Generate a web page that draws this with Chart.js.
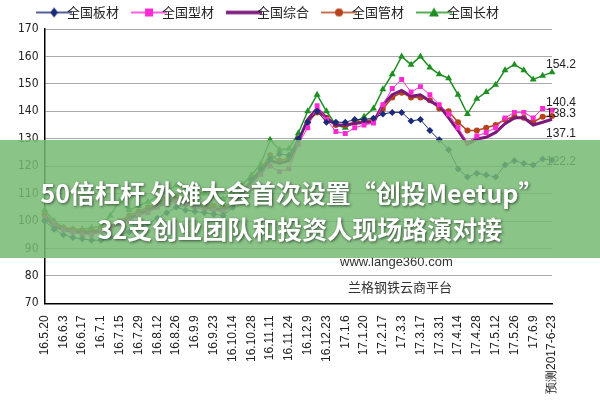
<!DOCTYPE html>
<html>
<head>
<meta charset="utf-8">
<script src="https://cdn.jsdelivr.net/npm/chart.js@4.4.0/dist/chart.umd.min.js"></script>
<style>
  body{margin:0;background:#fff;}
  #wrap{width:600px;height:400px;}
</style>
</head>
<body>
<div id="wrap"><canvas id="c"></canvas></div>
<script>
// 刻度标签（每两周一个）
const tickLabels = ['16.5.20','16.6.3','16.6.17','16.7.1','16.7.15','16.7.29','16.8.12','16.8.26','16.9.9','16.9.23',
  '16.10.14','16.10.28','16.11.11','16.11.24','16.12.9','16.12.23','17.1.6','17.1.20','17.2.17','17.3.3',
  '17.3.17','17.3.31','17.4.14','17.4.28','17.5.12','17.5.26','17.6.9','预测2017-6-23'];

const banCai   = [100,97,95,94,93.5,93,93,94,95,96,97.5,99,101,103,105,104,103.5,103,102.5,102,105,108.6,115,119,122.6,124.4,124,130,136,140,136,136,136,137,137,137.5,139,139.6,139.6,136.5,137,133,129.6,126,119,116,117.4,116.8,116,120.4,122,121,120.4,122.6,122.2];
const xingCai  = [101,99,97,96,95,95,96,97,99,100,102,103,105,106,107,106,105,104,104,103.5,105,108,112,117,120,118,119,128,134,142,137,132.6,131.9,134,135,135.7,142.4,148.3,151.6,147,149,146,142.4,139,134,128.6,131,132.3,134,137.6,139.6,139.6,137.6,141,140.4];
const zongHe   = [102,98,97,96,96,95.7,96.5,97.5,99,101,102.5,104,105.5,107,108,107,106,105,104.5,104,106,110,114,118,122,121,122,129,137,141,137.6,135,135,135.5,136,136,142.4,146,147.6,145.5,146,143.7,142,137.6,133,128,129.9,130.5,132.3,135.5,137.6,137.6,135,136,137.1];
const guanCai  = [102.5,99,97.5,97,96.5,96.5,97,98,100,102,103.5,105,106.5,108,109,108,107,106,105.5,105,107,111,115,119,124,122,123,130,136,139.6,137.6,135,135,136,136.5,137,140.8,145,146.8,145,145,144,141,140,136,133,133,134,135,137,138,137.6,136,138,138.3];
const changCai = [104,100,97.5,97,97,97.5,98,102,107.5,104,105.5,107,109,111,113,112,111,110,109,108,110.4,113,116.7,120.7,129.6,126,126.3,132,140,146,140,135,134,136,138,141,148,153.5,160,157,160,156,153.5,152,146,139,144.6,147,149.7,155,157,155,151.6,153,154.2];

const categories = [];
banCai.forEach((v, i) => categories.push(i % 2 === 0 ? tickLabels[i / 2] : ''));

const seriesDefs = [
  { label: '全国板材', data: banCai, color: '#1b2a78', point: 'rectRot', r: 3.5, w: 1 },
  { label: '全国型材', data: xingCai, color: '#ff2ad4', point: 'rect', r: 3.5, w: 1 },
  { label: '全国综合', data: zongHe, color: '#7b1a7b', point: false, r: 0, w: 3 },
  { label: '全国管材', data: guanCai, color: '#b5431c', point: 'circle', r: 3, w: 1.5 },
  { label: '全国长材', data: changCai, color: '#1f8f24', point: 'triangle', r: 4, w: 1.5 }
];

// 图例图标：线 + 标记
function legendIcon(s){
  const cv = document.createElement('canvas');
  cv.width = 36; cv.height = 12;
  const g = cv.getContext('2d');
  g.strokeStyle = s.color; g.fillStyle = s.color;
  g.lineWidth = s.point ? 1.5 : 3.5;
  g.beginPath(); g.moveTo(0, 6); g.lineTo(36, 6); g.stroke();
  if(s.point === 'rectRot'){ g.beginPath(); g.moveTo(18,1); g.lineTo(22,6); g.lineTo(18,11); g.lineTo(14,6); g.fill(); }
  if(s.point === 'rect'){ g.fillRect(14, 2, 8, 8); }
  if(s.point === 'circle'){ g.beginPath(); g.arc(18, 6, 4, 0, Math.PI*2); g.fill(); }
  if(s.point === 'triangle'){ g.beginPath(); g.moveTo(18,1); g.lineTo(23,10); g.lineTo(13,10); g.fill(); }
  return cv;
}
const icons = seriesDefs.map(legendIcon);

const overlay = {
  id: 'overlay',
  afterDatasetsDraw(chart){
    const ctx = chart.ctx;
    const x = chart.scales.x, y = chart.scales.y;
    ctx.save();
    // 末端数值
    ctx.fillStyle = '#222';
    ctx.font = '12px "Liberation Sans", Arial, sans-serif';
    const last = banCai.length - 1;
    const lx = x.getPixelForValue(last) - 6;
    [[changCai, -8], [xingCai, -8], [guanCai, -2], [zongHe, 14], [banCai, 2]].forEach(([d, dy]) => {
      ctx.fillText(String(d[last]), lx, y.getPixelForValue(d[last]) + dy);
    });
    // 水印
    ctx.fillStyle = '#333';
    ctx.font = '13px "Liberation Sans", Arial, sans-serif';
    ctx.fillText('www.lange360.com', 340, 262);
    ctx.font = '13px "Noto Sans CJK SC", sans-serif';
    ctx.fillText('兰格钢铁云商平台', 348, 287);
    // 横幅
    ctx.fillStyle = 'rgba(118,186,114,0.85)';
    ctx.fillRect(0, 140, 600, 118);
    ctx.fillStyle = '#fff';
    ctx.textAlign = 'center';
    ctx.shadowColor = 'rgba(0,0,0,0.6)';
    ctx.shadowBlur = 3;
    ctx.shadowOffsetX = 1; ctx.shadowOffsetY = 1;
    ctx.font = 'bold 25px "Noto Sans CJK SC", sans-serif';
    ctx.fillText('50倍杠杆 外滩大会首次设置“创投Meetup”', 292, 193);
    ctx.fillText('32支创业团队和投资人现场路演对接', 300, 229);
    ctx.restore();
  }
};

new Chart(document.getElementById('c'), {
  type: 'line',
  data: {
    labels: categories,
    datasets: seriesDefs.map(s => ({
      label: s.label,
      data: s.data,
      borderColor: s.color,
      backgroundColor: s.color,
      borderWidth: s.w,
      pointStyle: s.point,
      pointRadius: s.r,
      pointBorderWidth: 0,
      tension: 0
    }))
  },
  options: {
    responsive: true,
    maintainAspectRatio: false,
    animation: false,
    layout: { padding: { left: 12, right: 48, top: 0, bottom: 2 } },
    plugins: {
      tooltip: { enabled: false },
      legend: {
        position: 'top',
        labels: {
          usePointStyle: true,
          color: '#222',
          font: { size: 13, family: '"Noto Sans CJK SC", sans-serif' },
          padding: 6,
          generateLabels(chart){
            return seriesDefs.map((s, i) => ({
              text: s.label + '      ', pointStyle: icons[i], datasetIndex: i,
              fillStyle: s.color, strokeStyle: s.color, lineWidth: 0, fontColor: '#222'
            }));
          }
        }
      }
    },
    scales: {
      x: {
        grid: { display: false, drawTicks: true },
        border: { color: '#000', width: 1.5 },
        ticks: {
          autoSkip: false, maxRotation: 90, minRotation: 90, color: '#222',
          font: { size: 12, family: '"Liberation Sans", Arial, sans-serif' },
          padding: 4
        }
      },
      y: {
        min: 70, max: 170,
        grid: { color: '#aaa', borderDash: [1, 4], drawTicks: false },
        border: { color: '#000', width: 1.5 },
        ticks: {
          stepSize: 5, color: '#222', padding: 6,
          font: { size: 12, family: '"Liberation Sans Narrow", "DejaVu Sans Condensed", sans-serif' }
        }
      }
    }
  },
  plugins: [overlay]
});
</script>
</body>
</html>
